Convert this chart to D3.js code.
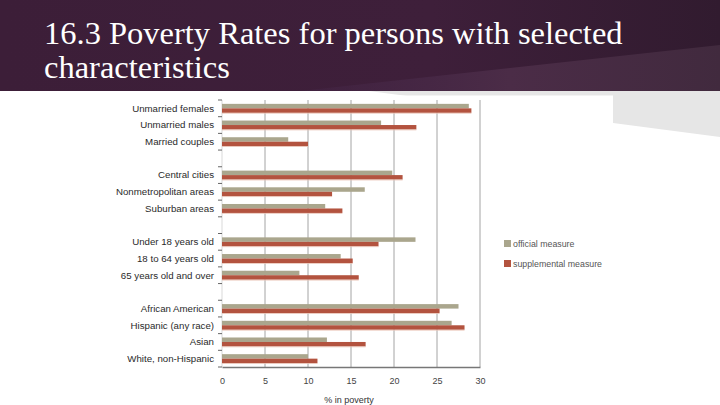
<!DOCTYPE html>
<html><head><meta charset="utf-8">
<script src="https://cdn.jsdelivr.net/npm/d3@7"></script>
<style>html,body{margin:0;padding:0;background:#fff;overflow:hidden}</style>
</head><body>
<svg id="c" width="720" height="405"></svg>
<script>
const titleLines = ["16.3 Poverty Rates for persons with selected", "characteristics"];
const groups = [
  ["Unmarried females", "Unmarried males", "Married couples"],
  ["Central cities", "Nonmetropolitan areas", "Suburban areas"],
  ["Under 18 years old", "18 to 64 years old", "65 years old and over"],
  ["African American", "Hispanic (any race)", "Asian", "White, non-Hispanic"]
];
const categories = groups.flat();
const official     = [28.7, 18.5, 7.7, 19.8, 16.6, 12.0, 22.5, 13.8, 9.0, 27.5, 26.7, 12.2, 10.0];
const supplemental = [29.0, 22.6, 10.0, 21.0, 12.8, 14.0, 18.2, 15.2, 15.9, 25.3, 28.2, 16.7, 11.1];
const seriesNames = ["official measure", "supplemental measure"];
const xTicks = [0, 5, 10, 15, 20, 25, 30];
const xLabel = "% in poverty";

const svg = d3.select("#c");
// header
const defs = svg.append("defs");
const g1 = defs.append("linearGradient").attr("id","hg").attr("x1","0").attr("x2","1").attr("y1","0").attr("y2","0");
g1.append("stop").attr("offset","0").attr("stop-color","#3c1e38");
g1.append("stop").attr("offset","0.6").attr("stop-color","#3e1f3a");
g1.append("stop").attr("offset","1").attr("stop-color","#311b2f");
const g2 = defs.append("linearGradient").attr("id","hg2").attr("x1","0").attr("x2","1").attr("y1","0").attr("y2","0");
g2.append("stop").attr("offset","0").attr("stop-color","#46274a").attr("stop-opacity","0.3");
g2.append("stop").attr("offset","0.5").attr("stop-color","#4b2c47");
g2.append("stop").attr("offset","1").attr("stop-color","#412a3e");

// light gray wedge under header
svg.append("polygon").attr("points","369,91 720,91 720,137").attr("fill","#e6e6e6");
svg.append("rect").attr("x",0).attr("y",0).attr("width",720).attr("height",91).attr("fill","url(#hg)");
svg.append("polygon").attr("points","300,91 720,45 720,91").attr("fill","url(#hg2)");
// chart image white panel
svg.append("rect").attr("x",90).attr("y",95.5).attr("width",523).attr("height",310).attr("fill","#fff");

svg.append("g").selectAll("text").data(titleLines).join("text")
  .attr("x",44).attr("y",(d,i)=>44+i*34)
  .attr("fill","#fff").attr("font-family","'Liberation Serif','DejaVu Serif',serif")
  .attr("font-size",32.5).text(d=>d);

// scales
const rows = [];
groups.forEach((g,i)=>{ g.forEach(c=>rows.push(c)); if(i<groups.length-1) rows.push("__gap"+i); });
const x = d3.scaleLinear().domain([0,30]).range([222,480]);
const y = d3.scaleBand().domain(rows).range([100,367]);
const sub = d3.scaleBand().domain(seriesNames).range([0,y.bandwidth()]).paddingInner(0).paddingOuter(0.86);
const color = d3.scaleOrdinal().domain(seriesNames).range(["#aaa68d","#b3533f"]);

// gridlines
svg.append("g").selectAll("line").data(xTicks.slice(1)).join("line")
  .attr("x1",d=>x(d)).attr("x2",d=>x(d)).attr("y1",100).attr("y2",367)
  .attr("stroke","#9a9a9a").attr("stroke-width",0.9);
// left axis line + ticks
svg.append("line").attr("x1",222).attr("x2",222).attr("y1",100).attr("y2",367).attr("stroke","#cfcfcf").attr("stroke-width",0.8);
const bounds = rows.map(r=>y(r)).concat([367]);
svg.append("g").selectAll("line").data(bounds).join("line")
  .attr("x1",218).attr("x2",222).attr("y1",d=>d).attr("y2",d=>d)
  .attr("stroke","#555").attr("stroke-width",0.9);

// bars
const data = categories.map((c,i)=>({c, vals:[official[i], supplemental[i]]}));
const rowG = svg.append("g").selectAll("g").data(data).join("g")
  .attr("transform",d=>`translate(0,${y(d.c)})`);
rowG.selectAll("rect.s").data(d=>seriesNames.map((s,j)=>({s,v:d.vals[j]}))).join("rect")
  .attr("x",x(0)).attr("y",d=>sub(d.s)).attr("width",d=>x(d.v)-x(0)).attr("height",sub.bandwidth())
  .attr("fill",d=>color(d.s));
// faint highlight under red bars
rowG.append("rect").attr("x",x(0)).attr("y",d=>sub(seriesNames[1])+sub.bandwidth())
  .attr("width",d=>x(d.vals[1])-x(0)).attr("height",0.8).attr("fill","#eac3b6");

// category labels
svg.append("g").selectAll("text").data(categories).join("text")
  .attr("x",214).attr("y",d=>y(d)+y.bandwidth()/2).attr("dy","0.35em")
  .attr("text-anchor","end").attr("font-family","'Liberation Sans',Arial,sans-serif")
  .attr("font-size",9.7).attr("fill","#2a2a2a").text(d=>d);

// bottom axis
const xa = svg.append("g").attr("transform","translate(0,367)")
  .call(d3.axisBottom(x).tickValues(xTicks).tickSize(0).tickPadding(11).tickFormat(d3.format("d")));
xa.select(".domain").attr("stroke","#777").attr("stroke-width",1.4);
xa.selectAll("text").attr("font-family","'Liberation Sans',Arial,sans-serif").attr("font-size",9).attr("fill","#444");

svg.append("text").attr("x",349).attr("y",403).attr("text-anchor","middle")
  .attr("font-family","'Liberation Sans',Arial,sans-serif").attr("font-size",9).attr("fill","#333").text(xLabel);

// legend
const lg = svg.append("g").selectAll("g").data(seriesNames).join("g")
  .attr("transform",(d,i)=>`translate(504,${240+i*20})`);
lg.append("rect").attr("width",7).attr("height",7).attr("fill",d=>color(d));
lg.append("text").attr("x",9).attr("y",3.5).attr("dy","0.35em")
  .attr("font-family","'Liberation Sans',Arial,sans-serif").attr("font-size",8.8).attr("fill","#555").text(d=>d);
</script>
</body></html>
